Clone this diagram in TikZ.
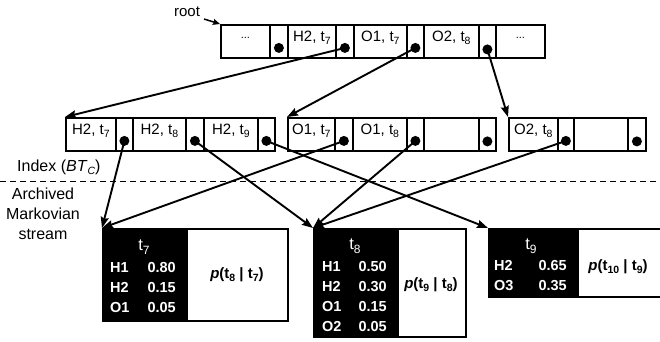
\documentclass[tikz,border=0pt]{standalone}
\usepackage{fontspec}
\setmainfont{Liberation Sans}
\usetikzlibrary{arrows.meta}
% lowered subscript in the text font
\newcommand{\lo}[1]{\raisebox{-3.5pt}{\fontsize{10.5}{10.5}\selectfont #1}}
\newcommand{\lohead}[1]{\raisebox{-4.5pt}{\fontsize{12}{12}\selectfont #1}}

\begin{document}
\begin{tikzpicture}[x=1pt,y=-1pt,
  cell/.style={draw, line width=1.8pt, minimum height=33pt, inner sep=0pt,
    anchor=north west, text height=6pt, text depth=6pt,
    font=\fontsize{15}{18}\selectfont},
  ptr/.style={fill=black, circle, minimum size=10pt, inner sep=0pt},
  conn/.style={line width=1.9pt, -{Stealth[length=11pt,width=8pt,inset=1.5pt]}},
  blackbox/.style={fill=black, draw=black, line width=1.8pt, inner sep=0pt, anchor=north west},
  whitebox/.style={fill=white, draw=black, line width=1.8pt, inner sep=0pt, anchor=north west},
  lbl/.style={font=\fontsize{16}{20}\selectfont, inner sep=0pt},
  tbl/.style={text=white, font=\bfseries\fontsize{14.5}{17}\selectfont, inner sep=0pt, anchor=base west},
  val/.style={text=white, font=\bfseries\fontsize{14.5}{17}\selectfont, inner sep=0pt, anchor=base east},
  head/.style={text=white, font=\fontsize{16.5}{18}\selectfont, inner sep=0pt, anchor=base},
  prob/.style={font=\bfseries\fontsize{15}{17}\selectfont, inner sep=0pt, anchor=base}]
\useasboundingbox (0,0) rectangle (660,341);
\clip (0,0) rectangle (660,341);

% ---- root node of the index ----
\node[cell, minimum width=49pt] (r1) at (220,24) {\raisebox{3pt}{\fontsize{11}{11}\selectfont ...}};
\node[cell, minimum width=18pt] (rp1) at (269,24) {};
\node[cell, minimum width=48pt] (r2) at (287,24) {H2, t\lo{7}};
\node[cell, minimum width=18pt] (rp2) at (335,24) {};
\node[cell, minimum width=53pt] (r3) at (353,24) {O1, t\lo{7}};
\node[cell, minimum width=17pt] (rp3) at (406,24) {};
\node[cell, minimum width=55pt] (r4) at (423,24) {O2, t\lo{8}};
\node[cell, minimum width=17pt] (rp4) at (478,24) {};
\node[cell, minimum width=49pt] (r5) at (495,24) {\raisebox{3pt}{\fontsize{11}{11}\selectfont ...}};

\node[ptr] (dr1) at ([yshift=-6.5pt]rp1.center) {};
\node[ptr] (dr2) at ([yshift=-6.5pt]rp2.center) {};
\node[ptr] (dr3) at ([yshift=-6.5pt]rp3.center) {};
\node[ptr] (dr4) at ([yshift=-8pt]rp4.center) {};

\node[font=\fontsize{15}{18}\selectfont, inner sep=0pt, anchor=base] (rootlbl) at (187,16) {root};
\coordinate (rootin) at (204,19);
\draw[line width=1.5pt, -{Stealth[length=7pt,width=6pt,inset=1pt]}] (rootin) -- (r1.north west);

% ---- leaf level ----
\node[cell, minimum width=50pt] (a1) at (65,117) {H2, t\lo{7}};
\node[cell, minimum width=17pt] (ap1) at (115,117) {};
\node[cell, minimum width=53pt] (a2) at (132,117) {H2, t\lo{8}};
\node[cell, minimum width=18pt] (ap2) at (185,117) {};
\node[cell, minimum width=54pt] (a3) at (203,117) {H2, t\lo{9}};
\node[cell, minimum width=17pt] (ap3) at (257,117) {};

\node[cell, minimum width=47pt] (b1) at (287,117) {O1, t\lo{7}};
\node[cell, minimum width=18pt] (bp1) at (334,117) {};
\node[cell, minimum width=54pt] (b2) at (352,117) {O1, t\lo{8}};
\node[cell, minimum width=17pt] (bp2) at (406,117) {};
\node[cell, minimum width=55pt] (b3) at (423,117) {};
\node[cell, minimum width=17pt] (bp3) at (478,117) {};

\node[cell, minimum width=49pt] (c1) at (508,117) {O2, t\lo{8}};
\node[cell, minimum width=16pt] (cp1) at (557,117) {};
\node[cell, minimum width=54pt] (c2) at (573,117) {};
\node[cell, minimum width=18pt] (cp2) at (627,117) {};

\node[ptr] (da1) at ([yshift=-6.5pt]ap1.center) {};
\node[ptr] (da2) at ([yshift=-6.5pt]ap2.center) {};
\node[ptr] (da3) at ([yshift=-6.5pt]ap3.center) {};
\node[ptr] (db1) at ([yshift=-6.5pt]bp1.center) {};
\node[ptr] (db2) at ([yshift=-6.5pt]bp2.center) {};
\node[ptr] (db3) at ([yshift=-7pt]bp3.center) {};
\node[ptr] (dc1) at ([yshift=-6.5pt]cp1.center) {};
\node[ptr] (dc2) at ([yshift=-7pt]cp2.center) {};

% ---- divider and side labels ----
\coordinate (divL) at (0,181);
\coordinate (divR) at (660,181);
\draw[line width=0.8pt, dash pattern=on 6pt off 4pt] (divL) -- (divR);
\node[lbl, anchor=base west] (idx) at (17,171) {Index (\textit{BT}\lo{\textit{C}})};
\node[lbl, align=center, anchor=north] (arch) at (43,188) {Archived\\Markovian\\stream};

% ---- archived stream blocks ----
\node[blackbox, minimum width=84pt, minimum height=92pt] (k7) at (102,228) {};
\node[whitebox, minimum width=101pt, minimum height=92pt] (w7) at (186,228) {};
\node[blackbox, minimum width=84pt, minimum height=108pt] (k8) at (313,228) {};
\node[whitebox, minimum width=68pt, minimum height=108pt] (w8) at (397,228) {};
\node[blackbox, minimum width=89pt, minimum height=68pt] (k9) at (488,228) {};
\node[whitebox, minimum width=90pt, minimum height=68pt] (w9) at (577,228) {};

% t7
\node[head] (h7) at (144,250) {t\lohead{7}};
\node[tbl] (l7a) at (110,272) {H1};  \node[val] (v7a) at (176,272) {0.80};
\node[tbl] (l7b) at (110,292) {H2};  \node[val] (v7b) at (176,292) {0.15};
\node[tbl] (l7c) at (110,312) {O1};  \node[val] (v7c) at (176,312) {0.05};
\node[prob] (p7) at (237,278) {\textit{p}(t\lo{8} | t\lo{7})};
% t8
\node[head] (h8) at (355,249) {t\lohead{8}};
\node[tbl] (l8a) at (322,271) {H1};  \node[val] (v8a) at (387,271) {0.50};
\node[tbl] (l8b) at (322,291) {H2};  \node[val] (v8b) at (387,291) {0.30};
\node[tbl] (l8c) at (322,311) {O1};  \node[val] (v8c) at (387,311) {0.15};
\node[tbl] (l8d) at (322,331) {O2};  \node[val] (v8d) at (387,331) {0.05};
\node[prob] (p8) at (431,288) {\textit{p}(t\lo{9} | t\lo{8})};
% t9
\node[head] (h9) at (531,249) {t\lohead{9}};
\node[tbl] (l9a) at (494,270) {H2};  \node[val] (v9a) at (567,270) {0.65};
\node[tbl] (l9b) at (494,290) {O3};  \node[val] (v9b) at (567,290) {0.35};
\node[prob] (p9) at (618,270) {\textit{p}(t\lo{10} | t\lo{9})};

% ---- pointers ----
\draw[conn] (dr2.center) -- (a1.north west);
\draw[conn] (dr3.center) -- (b1.north west);
\draw[conn] (dr4.center) -- (c1.north west);
\draw[conn] (da1.center) -- (k7.north west);
\draw[conn] (db1.center) -- (k7.north west);
\draw[conn] (da2.center) -- (k8.north west);
\draw[conn] (db2.center) -- (k8.north west);
\draw[conn] (dc1.center) -- (k8.north west);
\draw[conn] (da3.center) -- (k9.north west);
\end{tikzpicture}
\end{document}
